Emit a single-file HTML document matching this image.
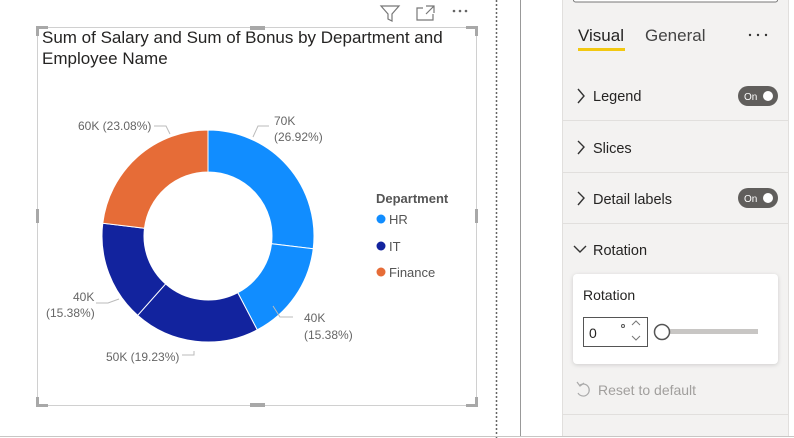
<!DOCTYPE html>
<html><head><meta charset="utf-8"><style>
*{margin:0;padding:0;box-sizing:border-box}
body{width:794px;height:438px;overflow:hidden;background:#fff;font-family:"Liberation Sans","DejaVu Sans",sans-serif;position:relative}
.abs{position:absolute}
</style></head><body>
<svg class="abs" style="left:0;top:0" width="794" height="438">
<line x1="496.5" y1="0" x2="496.5" y2="438" stroke="#666" stroke-width="1.5" stroke-dasharray="2,2"/>
<rect x="563" y="0" width="225" height="436" fill="#f3f2f1"/>
<line x1="520.5" y1="0" x2="520.5" y2="436" stroke="#999"/>
<line x1="562.5" y1="0" x2="562.5" y2="436" stroke="#e1dfdd"/>
<line x1="788.5" y1="0" x2="788.5" y2="436" stroke="#e1dfdd"/>
<line x1="0" y1="436.5" x2="794" y2="436.5" stroke="#c8c6c4"/>
<rect x="37.5" y="27.5" width="439" height="378" fill="none" stroke="#d0d0d0"/>
<g fill="#a8a8a8">
<rect x="36" y="26" width="12" height="3"/><rect x="36" y="26" width="3" height="10"/>
<rect x="466" y="26" width="12" height="3"/><rect x="475" y="26" width="3" height="10"/>
<rect x="36" y="404" width="12" height="3"/><rect x="36" y="397" width="3" height="10"/>
<rect x="466" y="404" width="12" height="3"/><rect x="475" y="397" width="3" height="10"/>
<rect x="250" y="26" width="15" height="4"/><rect x="250" y="403" width="15" height="4"/>
<rect x="36" y="209" width="3" height="14"/><rect x="475" y="209" width="3" height="14"/>
</g>
<path d="M381 6 L399 6 L392 14 L392 21 L388 19 L388 14 Z" fill="none" stroke="#777" stroke-width="1.2"/>
<path d="M423 8 L417 8 L417 20 L433 20 L433 14 M426 6 L434 6 L434 13 M434 6 L426 14" fill="none" stroke="#777" stroke-width="1.2"/>
<circle cx="454" cy="11" r="1.3" fill="#666"/><circle cx="460" cy="11" r="1.3" fill="#666"/><circle cx="466" cy="11" r="1.3" fill="#666"/>
<g id="donut"></g>
<g fill="none" stroke="#bbb" stroke-width="1">
<path d="M154 126 L166 126 L170 134"/>
<path d="M269 126 L258 126 L253 137"/>
<path d="M293 317 L280 317 L273 306"/>
<path d="M194 351 L194 355 L182 355"/>
<path d="M119 299 L108 303 L96 303"/>
</g>
<g font-size="12" fill="#666">
<text x="78" y="130">60K (23.08%)</text>
<text x="274" y="125">70K</text><text x="274" y="141">(26.92%)</text>
<text x="304" y="322">40K</text><text x="304" y="339">(15.38%)</text>
<text x="106" y="361">50K (19.23%)</text>
<text x="73" y="301">40K</text><text x="46" y="317">(15.38%)</text>
</g>
<text x="376" y="203" font-size="13" font-weight="bold" fill="#555">Department</text>
<circle cx="381" cy="219" r="4.5" fill="#118dff"/><text x="389" y="224" font-size="13" fill="#555">HR</text>
<circle cx="381" cy="246" r="4.5" fill="#12239e"/><text x="389" y="251" font-size="13" fill="#555">IT</text>
<circle cx="381" cy="272" r="4.5" fill="#e66c37"/><text x="389" y="277" font-size="13" fill="#555">Finance</text>
<rect x="573.5" y="-5" width="204" height="7" rx="2" fill="#fff" stroke="#777"/>
<text x="578" y="41" font-size="17" fill="#252423">Visual</text>
<rect x="578" y="48" width="47" height="3" fill="#f2c811"/>
<text x="645" y="41" font-size="17" fill="#444">General</text>
<circle cx="750" cy="35" r="1.2" fill="#333"/><circle cx="758" cy="35" r="1.2" fill="#333"/><circle cx="766" cy="35" r="1.2" fill="#333"/>
<g fill="none" stroke="#333" stroke-width="1.4">
<path d="M578 89 L584 96 L578 103"/><path d="M578 141 L584 147 L578 154"/><path d="M578 192 L584 198 L578 205"/>
<path d="M574 246 L580 252 L586 246"/>
</g>
<g font-size="14.5" fill="#252423">
<text x="593" y="101">Legend</text><text x="593" y="153">Slices</text>
<text x="593" y="204">Detail labels</text><text x="593" y="255">Rotation</text>
</g>
<g stroke="#e1dfdd"><line x1="563" y1="120.5" x2="788" y2="120.5"/><line x1="563" y1="172.5" x2="788" y2="172.5"/><line x1="563" y1="223.5" x2="788" y2="223.5"/><line x1="563" y1="414.5" x2="788" y2="414.5"/></g>
<rect x="738" y="86" width="40" height="20" rx="10" fill="#605e5c"/><text x="744" y="100" font-size="10" fill="#fff">On</text><circle cx="768" cy="96" r="5" fill="#fff"/>
<rect x="738" y="188" width="40" height="20" rx="10" fill="#605e5c"/><text x="744" y="202" font-size="10" fill="#fff">On</text><circle cx="768" cy="198" r="5" fill="#fff"/>
<rect x="573" y="274" width="205" height="90" rx="4" fill="#fff" style="filter:drop-shadow(0 1px 2px rgba(0,0,0,.15))"/>
<text x="583" y="300" font-size="14" fill="#252423">Rotation</text>
<rect x="583.5" y="317.5" width="64" height="29" fill="#fff" stroke="#555"/>
<text x="589" y="338" font-size="14" fill="#252423">0</text>
<circle cx="623" cy="326" r="1.5" fill="none" stroke="#555"/>
<path d="M632 325 L636 321 L640 325 M632 336 L636 340 L640 336" fill="none" stroke="#777"/>
<rect x="662" y="329" width="96" height="5" fill="#c8c6c4"/>
<circle cx="662" cy="332" r="7.5" fill="#fff" stroke="#555" stroke-width="1.5"/>
<path d="M580 385 A6 6 0 1 1 578 393" fill="none" stroke="#aaa" stroke-width="1.2"/><path d="M577 382 L580 386 L584 383" fill="none" stroke="#aaa" stroke-width="1.2"/>
<text x="598" y="395" font-size="14" fill="#a19f9d">Reset to default</text>
</svg>
<div class="abs" style="left:42px;top:27px;font-size:17px;line-height:21px;color:#252423;width:430px">Sum of Salary and Sum of Bonus by Department and Employee Name</div>
<script>
var cx=208,cy=236,R=106,r=64;
var d=[[70,'#118dff'],[40,'#118dff'],[50,'#12239e'],[40,'#12239e'],[60,'#e66c37']];
var tot=260,a=0,s='';
function p(rad,ang){return [cx+rad*Math.sin(ang),cy-rad*Math.cos(ang)];}
d.forEach(function(x){var b=a+x[0]/tot*2*Math.PI;var l=(b-a)>Math.PI?1:0;
var o1=p(R,a),o2=p(R,b),i1=p(r,b),i2=p(r,a);
s+='<path d="M'+o1+' A'+R+' '+R+' 0 '+l+' 1 '+o2+' L'+i1+' A'+r+' '+r+' 0 '+l+' 0 '+i2+' Z" fill="'+x[1]+'" stroke="#fff" stroke-width="1"/>';a=b;});
document.getElementById('donut').innerHTML=s;
</script>
</body></html>
